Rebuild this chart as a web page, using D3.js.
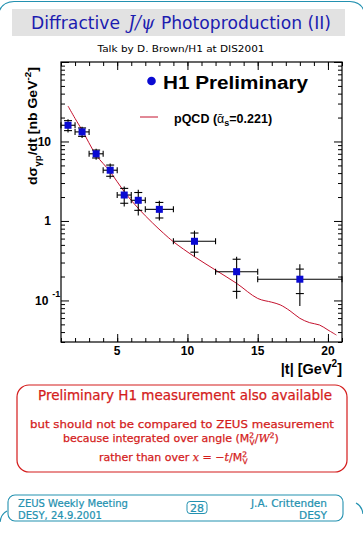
<!DOCTYPE html>
<html lang="en">
<head>
<meta charset="UTF-8" />
<title>Diffractive J/psi Photoproduction (II)</title>
<style>
  body { margin: 0; background: #ffffff; }
  svg { display: block; font-family: "DejaVu Sans", sans-serif; }
  .plot text { font-family: "Liberation Sans", Arial, sans-serif; font-weight: bold; fill: #000; }
  .axis path.domain { display: none; }
  .axis line { stroke: #000; }
  .note { stroke: #d41c1c; stroke-width: 0.25; }
</style>
</head>
<body>
<script src="https://d3js.org/d3.v7.min.js"></script>
<script>
// H1 preliminary points: bin centre, bin edges, cross section, errors
var tMid = [1.5, 2.5, 3.5, 4.5, 5.5, 6.5, 8, 10.5, 13.5, 18];
var tLow = [1, 2, 3, 4, 5, 6, 7, 9, 12, 15];
var tHigh = [2, 3, 4, 5, 6, 7, 9, 12, 15, 21];
var xsec = [16, 13.2, 7.0, 4.35, 2.12, 1.82, 1.40, 0.555, 0.23, 0.185];
var statErr = [2.3, 1.6, 0.8, 0.7, 0.45, 0.46, 0.31, 0.15, 0.10, 0.063];
var totErr = [3.0, 2.1, 1.1, 0.95, 0.6, 0.65, 0.39, 0.2, 0.125, 0.1];

// pQCD curve
var curveT = [1.5, 2.0, 2.5, 3.5, 4.5, 5.5, 6.5, 7.5, 8.3, 9.0, 10.5, 12.0, 13.5, 15.0, 16.0, 16.6, 17.3, 18.0, 18.7, 19.4, 20.0, 20.6];
var curveY = [27.9, 19.5, 13.9, 6.76, 4.17, 2.33, 1.44, 0.95, 0.70, 0.548, 0.355, 0.241, 0.164, 0.106, 0.095, 0.088, 0.074, 0.0596, 0.0525, 0.0491, 0.0425, 0.0367];

var xMajor = [5, 10, 15, 20];
var xMinor = d3.range(1, 22);
var yLabelled = [0.1, 1, 10];

var width = 363, height = 535;
var teal = "#2391b0", red = "#d41c1c", blue = "#0a0ad2";

var svg = d3.select("body").append("svg")
  .attr("width", width).attr("height", height);

// page frame
svg.append("path")
  .attr("d", "M-2,16 Q0,2 14,1.5 L350,1.5 Q361,2 364,11")
  .attr("fill", "none").attr("stroke", teal).attr("stroke-width", 1.2);
svg.append("path")
  .attr("d", "M7,511 Q1,514 0,522")
  .attr("fill", "none").attr("stroke", teal).attr("stroke-width", 1.2);
svg.append("path")
  .attr("d", "M356,503 Q362,506 363,514")
  .attr("fill", "none").attr("stroke", teal).attr("stroke-width", 1.2);

// title
svg.append("rect").attr("x", 12).attr("y", 9).attr("width", 333).attr("height", 27)
  .attr("fill", "#e2e2e2");
var title = svg.append("text").attr("x", 181).attr("y", 29)
  .attr("text-anchor", "middle").attr("font-size", 18).attr("fill", "#1c1cb0")
  .attr("textLength", 300).attr("lengthAdjust", "spacingAndGlyphs");
title.append("tspan").text("Diffractive ");
title.append("tspan").attr("dx", 3).attr("font-style", "italic").attr("font-family", "DejaVu Serif").text("J/ψ");
title.append("tspan").attr("dx", 1).text(" Photoproduction (II)");

svg.append("text").attr("x", 181).attr("y", 52).attr("text-anchor", "middle")
  .attr("font-size", 9).attr("fill", "#000")
  .attr("textLength", 167).attr("lengthAdjust", "spacingAndGlyphs")
  .text("Talk by D. Brown/H1 at DIS2001");

// plot
var x = d3.scaleLinear().domain([1, 21]).range([61, 342]);
var y = d3.scaleLog().domain([0.03, 100]).range([342, 62]);
var plot = svg.append("g").attr("class", "plot");

var isMajor = function (v) { return Math.abs(Math.log10(v) - Math.round(Math.log10(v))) < 1e-6; };
var yTicks = y.ticks();
var yMajor = yTicks.filter(isMajor);
var yMinor = yTicks.filter(function (v) { return !isMajor(v); });

function axisG(gen, tr) {
  plot.append("g").attr("class", "axis").attr("transform", tr).call(gen)
    .selectAll("text").remove();
}
axisG(d3.axisBottom(x).tickValues(xMinor).tickSize(-4), "translate(0,342)");
axisG(d3.axisBottom(x).tickValues(xMajor).tickSize(-8), "translate(0,342)");
axisG(d3.axisTop(x).tickValues(xMinor).tickSize(-4), "translate(0,62)");
axisG(d3.axisTop(x).tickValues(xMajor).tickSize(-8), "translate(0,62)");
axisG(d3.axisLeft(y).tickValues(yMinor).tickSize(-4), "translate(61,0)");
axisG(d3.axisLeft(y).tickValues(yMajor).tickSize(-8), "translate(61,0)");
axisG(d3.axisRight(y).tickValues(yMinor).tickSize(-4), "translate(342,0)");
axisG(d3.axisRight(y).tickValues(yMajor).tickSize(-8), "translate(342,0)");

plot.append("rect").attr("x", 61).attr("y", 62).attr("width", 281).attr("height", 280)
  .attr("fill", "none").attr("stroke", "#000").attr("stroke-width", 1.2);

// tick labels
plot.selectAll(".xlab").data(xMajor).join("text").attr("class", "xlab")
  .attr("x", function (d) { return x(d); }).attr("y", 355)
  .attr("text-anchor", "middle").attr("font-size", 12)
  .text(function (d) { return d; });

var yLabels = plot.selectAll(".ylab").data(yLabelled).join("text").attr("class", "ylab")
  .attr("font-size", 12)
  .attr("y", function (d) { return y(d) + 4.5; });
yLabels.each(function (d) {
  var t = d3.select(this);
  var e = Math.round(Math.log10(d));
  if (e >= 0) {
    t.attr("x", 51).attr("text-anchor", "end").text(Math.pow(10, e));
  } else {
    t.attr("x", 35);
    t.append("tspan").text("10");
    t.append("tspan").attr("dx", 4).attr("dy", -8).attr("font-size", 9).text(e);
  }
});

// axis titles
var yt = plot.append("text").attr("transform", "rotate(-90)")
  .attr("x", -67).attr("y", 36.5).attr("text-anchor", "end").attr("font-size", 13.5)
  .attr("textLength", 118).attr("lengthAdjust", "spacingAndGlyphs");
yt.append("tspan").text("dσ");
yt.append("tspan").attr("dy", 4).attr("font-size", 9.5).text("γp");
yt.append("tspan").attr("dy", -4).text("/dt [nb GeV");
yt.append("tspan").attr("dy", -6).attr("font-size", 9.5).text("-2");
yt.append("tspan").attr("dy", 6).text("]");

var xt = plot.append("text").attr("x", 342).attr("y", 374).attr("text-anchor", "end")
  .attr("font-size", 14.5);
xt.append("tspan").text("|t| [GeV");
xt.append("tspan").attr("dy", -7).attr("font-size", 10).text("2");
xt.append("tspan").attr("dy", 7).text("]");

// theory curve
var line = d3.line()
  .x(function (d) { return x(d[0]); })
  .y(function (d) { return y(d[1]); })
  .curve(d3.curveCatmullRom);
plot.append("path").datum(d3.zip(curveT, curveY))
  .attr("d", line).attr("fill", "none").attr("stroke", "#c4122e").attr("stroke-width", 1);

// data points with error bars
var pts = d3.range(tMid.length).map(function (i) {
  return { t: tMid[i], lo: tLow[i], hi: tHigh[i], v: xsec[i], s: statErr[i], e: totErr[i] };
});
var pg = plot.append("g").attr("stroke", "#000").attr("stroke-width", 1.1);
var pt = pg.selectAll("g").data(pts).join("g");
pt.append("line")
  .attr("x1", function (d) { return x(d.lo); }).attr("x2", function (d) { return x(d.hi); })
  .attr("y1", function (d) { return y(d.v); }).attr("y2", function (d) { return y(d.v); });
pt.append("line")
  .attr("x1", function (d) { return x(d.lo); }).attr("x2", function (d) { return x(d.lo); })
  .attr("y1", function (d) { return y(d.v) - 3; }).attr("y2", function (d) { return y(d.v) + 3; });
pt.append("line")
  .attr("x1", function (d) { return x(d.hi); }).attr("x2", function (d) { return x(d.hi); })
  .attr("y1", function (d) { return y(d.v) - 3; }).attr("y2", function (d) { return y(d.v) + 3; });
pt.append("line")
  .attr("x1", function (d) { return x(d.t); }).attr("x2", function (d) { return x(d.t); })
  .attr("y1", function (d) { return y(d.v + d.e); }).attr("y2", function (d) { return y(d.v - d.e); });
[1, -1].forEach(function (sg) {
  pt.append("line")
    .attr("x1", function (d) { return x(d.t) - 4; }).attr("x2", function (d) { return x(d.t) + 4; })
    .attr("y1", function (d) { return y(d.v + sg * d.s); }).attr("y2", function (d) { return y(d.v + sg * d.s); });
});
plot.append("g").selectAll("rect").data(pts).join("rect")
  .attr("x", function (d) { return x(d.t) - 3.5; }).attr("y", function (d) { return y(d.v) - 3.5; })
  .attr("width", 7).attr("height", 7).attr("fill", blue);

// legend
plot.append("circle").attr("cx", 151.5).attr("cy", 81).attr("r", 4.3).attr("fill", blue);
plot.append("text").attr("x", 163).attr("y", 88.5).attr("font-size", 17.5)
  .attr("textLength", 145).attr("lengthAdjust", "spacingAndGlyphs").text("H1 Preliminary");
plot.append("line").attr("x1", 140).attr("x2", 158).attr("y1", 117).attr("y2", 117)
  .attr("stroke", "#c4122e").attr("stroke-width", 1);
var lq = plot.append("text").attr("x", 174).attr("y", 123).attr("font-size", 12.5);
lq.append("tspan").text("pQCD (");
lq.append("tspan").attr("font-weight", "normal").text("ᾱ");
lq.append("tspan").attr("dy", 3).attr("font-size", 9).text("s");
lq.append("tspan").attr("dy", -3).text("=0.221)");

// note box
svg.append("rect").attr("x", 17).attr("y", 385).attr("width", 330).attr("height", 87)
  .attr("rx", 12).attr("fill", "#fff").attr("stroke", red).attr("stroke-width", 1.2);
svg.append("text").attr("class", "note").attr("x", 185).attr("y", 400).attr("text-anchor", "middle")
  .attr("font-size", 13.5).attr("fill", red)
  .attr("textLength", 294).attr("lengthAdjust", "spacingAndGlyphs")
  .text("Preliminary H1 measurement also available");
svg.append("text").attr("class", "note").attr("x", 182).attr("y", 428).attr("text-anchor", "middle")
  .attr("font-size", 11).attr("fill", red)
  .attr("textLength", 304).attr("lengthAdjust", "spacingAndGlyphs")
  .text("but should not be compared to ZEUS measurement");
var l3 = svg.append("text").attr("class", "note").attr("x", 63).attr("y", 442).attr("font-size", 11).attr("fill", red);
l3.append("tspan").text("because integrated over angle (M");
l3.append("tspan").attr("dy", -4).attr("font-size", 7.5).text("2");
l3.append("tspan").attr("dx", -4.5).attr("dy", 7).attr("font-size", 7.5).text("V");
l3.append("tspan").attr("dy", -3).attr("font-family", "DejaVu Serif").text("/");
l3.append("tspan").attr("font-style", "italic").attr("font-family", "DejaVu Serif").text("W");
l3.append("tspan").attr("dy", -4).attr("font-size", 7.5).text("2");
l3.append("tspan").attr("dy", 4).text(")");
var l4 = svg.append("text").attr("class", "note").attr("x", 99).attr("y", 461).attr("font-size", 11).attr("fill", red);
l4.append("tspan").text("rather than over ");
l4.append("tspan").attr("font-style", "italic").attr("font-family", "DejaVu Serif").text("x");
l4.append("tspan").attr("font-family", "DejaVu Serif").text(" = −");
l4.append("tspan").attr("font-style", "italic").attr("font-family", "DejaVu Serif").text("t");
l4.append("tspan").attr("font-family", "DejaVu Serif").text("/");
l4.append("tspan").text("M");
l4.append("tspan").attr("dy", -4).attr("font-size", 7.5).text("2");
l4.append("tspan").attr("dx", -4.5).attr("dy", 7).attr("font-size", 7.5).text("V");

// footer
svg.append("rect").attr("x", 8).attr("y", 495).attr("width", 335).attr("height", 26)
  .attr("rx", 7).attr("fill", "none").attr("stroke", teal).attr("stroke-width", 1.1);
svg.append("rect").attr("x", 187).attr("y", 501.5).attr("width", 20).attr("height", 12)
  .attr("rx", 3).attr("fill", "none").attr("stroke", teal).attr("stroke-width", 1);
var foot = [
  { t: "ZEUS Weekly Meeting", x: 18, y: 507, a: "start", w: 110 },
  { t: "DESY, 24.9.2001", x: 18, y: 518.5, a: "start", w: 84 },
  { t: "28", x: 197, y: 511.5, a: "middle", w: 14 },
  { t: "J.A. Crittenden", x: 327, y: 507, a: "end", w: 76 },
  { t: "DESY", x: 327, y: 518.5, a: "end", w: 28 }
];
svg.selectAll(".foot").data(foot).join("text").attr("class", "foot")
  .attr("x", function (d) { return d.x; }).attr("y", function (d) { return d.y; })
  .attr("text-anchor", function (d) { return d.a; })
  .attr("font-size", 10).attr("fill", teal).attr("stroke", teal).attr("stroke-width", 0.2)
  .attr("textLength", function (d) { return d.w; }).attr("lengthAdjust", "spacingAndGlyphs")
  .text(function (d) { return d.t; });
</script>
</body>
</html>
